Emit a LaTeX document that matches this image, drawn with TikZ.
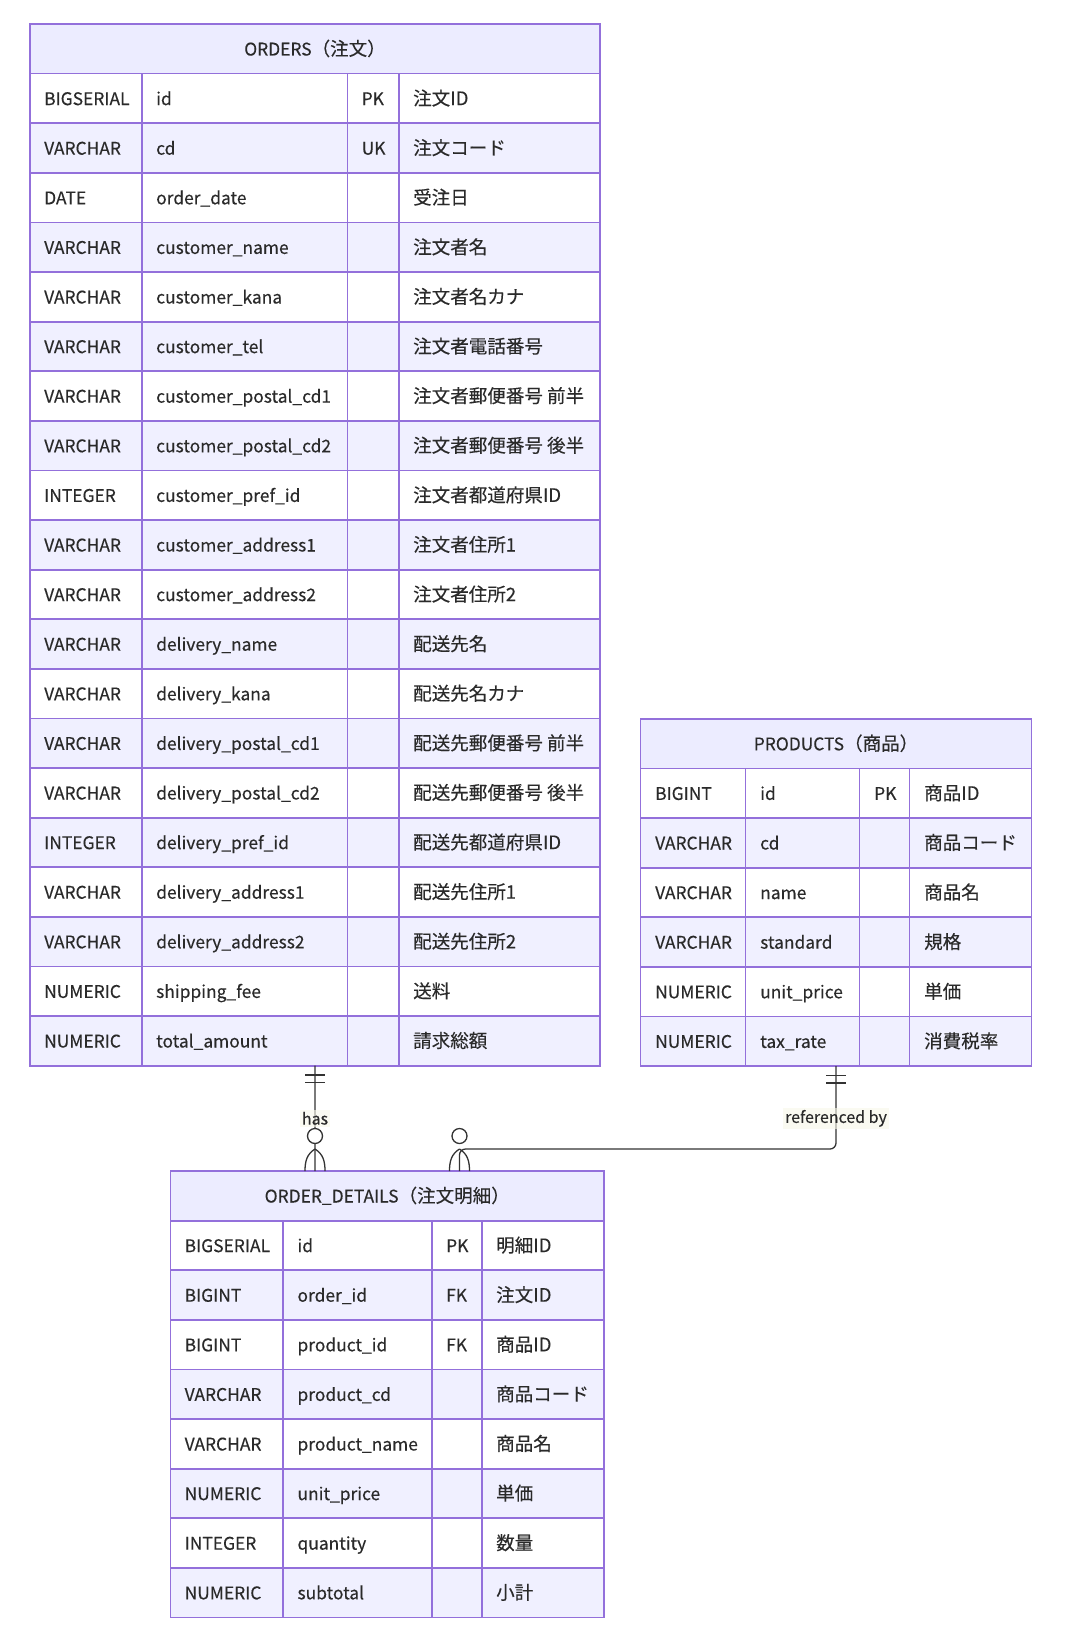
\documentclass[tikz,border=0pt]{standalone}
\usepackage{fontspec}
\setmainfont{Noto Sans CJK JP}[FakeBold=0.3]
\newfontfamily\jp{Noto Sans CJK JP}[Scale=1.065, FakeBold=0.3]
\usepackage{tikz}
\usetikzlibrary{calc}
\definecolor{erLine}{HTML}{9370DB}
\definecolor{erHead}{HTML}{ECECFF}
\definecolor{erRow}{HTML}{F0F0FF}
\definecolor{relLine}{HTML}{333333}
\definecolor{txt}{HTML}{2A2A2A}
\definecolor{labelbg}{HTML}{F6F6E8}

\begin{document}
\begin{tikzpicture}[x=1pt, y=-1pt,
    grid/.style={draw=erLine, line width=1.8pt},
    frame/.style={grid, anchor=north west, inner sep=0pt, outer sep=0pt},
    celltext/.style={anchor=base west, inner sep=0pt, text=txt, font=\fontsize{17.4}{17.4}\selectfont},
    titletext/.style={anchor=base, inner sep=0pt, text=txt, font=\fontsize{17.4}{17.4}\selectfont},
    rel/.style={draw=relLine, line width=1.3pt},
    rellabel/.style={fill=labelbg, fill opacity=0.6, text opacity=1, inner sep=2pt, text=txt, font=\fontsize{16}{16}\selectfont}]
    \useasboundingbox (0,0) rectangle (1071,1651);

    % ORDERS
    \draw[grid, fill=erHead] (30,24) rectangle (600,73.6);
    \node[titletext] (orders-title) at (315,55.5) {ORDERS{\jp（注文）}};
    \foreach \ty/\nm/\ky/\cm [count=\i] in {BIGSERIAL/id/PK/注文ID, VARCHAR/cd/UK/注文コード, DATE/order\_date//受注日,
        VARCHAR/customer\_name//注文者名, VARCHAR/customer\_kana//注文者名カナ, VARCHAR/customer\_tel//注文者電話番号,
        VARCHAR/customer\_postal\_cd1//注文者郵便番号 前半, VARCHAR/customer\_postal\_cd2//注文者郵便番号 後半,
        INTEGER/customer\_pref\_id//注文者都道府県ID, VARCHAR/customer\_address1//注文者住所1,
        VARCHAR/customer\_address2//注文者住所2, VARCHAR/delivery\_name//配送先名, VARCHAR/delivery\_kana//配送先名カナ,
        VARCHAR/delivery\_postal\_cd1//配送先郵便番号 前半, VARCHAR/delivery\_postal\_cd2//配送先郵便番号 後半,
        INTEGER/delivery\_pref\_id//配送先都道府県ID, VARCHAR/delivery\_address1//配送先住所1,
        VARCHAR/delivery\_address2//配送先住所2, NUMERIC/shipping\_fee//送料, NUMERIC/total\_amount//請求総額} {
      \pgfmathsetmacro\yt{24+\i*49.6}
      \ifodd\i\relax\def\rowfill{white}\else\def\rowfill{erRow}\fi
      \draw[grid, fill=\rowfill] (30,\yt) rectangle (600,\yt+49.6);
      \draw[grid] (142,\yt) -- (142,\yt+49.6) (347.5,\yt) -- (347.5,\yt+49.6) (399,\yt) -- (399,\yt+49.6);
      \node[celltext] (ord-ty-\i) at (44,\yt+31.5) {\ty};
      \node[celltext] (ord-nm-\i) at (156,\yt+31.5) {\nm};
      \node[celltext] (ord-ky-\i) at (361.5,\yt+31.5) {\ky};
      \node[celltext] (ord-cm-\i) at (413,\yt+31.5) {\jp\cm};
    }
    \node[frame, minimum width=570pt, minimum height=1041.6pt] (orders) at (30,24) {};

    % PRODUCTS
    \draw[grid, fill=erHead] (640.5,718.8) rectangle (1031.5,768.4);
    \node[titletext] (products-title) at (836,750.3) {PRODUCTS{\jp（商品）}};
    \foreach \ty/\nm/\ky/\cm [count=\i] in {BIGINT/id/PK/商品ID, VARCHAR/cd//商品コード, VARCHAR/name//商品名,
        VARCHAR/standard//規格, NUMERIC/unit\_price//単価, NUMERIC/tax\_rate//消費税率} {
      \pgfmathsetmacro\yt{718.8+\i*49.6}
      \ifodd\i\relax\def\rowfill{white}\else\def\rowfill{erRow}\fi
      \draw[grid, fill=\rowfill] (640.5,\yt) rectangle (1031.5,\yt+49.6);
      \draw[grid] (745.5,\yt) -- (745.5,\yt+49.6) (859.5,\yt) -- (859.5,\yt+49.6) (909.5,\yt) -- (909.5,\yt+49.6);
      \node[celltext] (prd-ty-\i) at (655,\yt+31.5) {\ty};
      \node[celltext] (prd-nm-\i) at (760,\yt+31.5) {\nm};
      \node[celltext] (prd-ky-\i) at (874,\yt+31.5) {\ky};
      \node[celltext] (prd-cm-\i) at (924,\yt+31.5) {\jp\cm};
    }
    \node[frame, minimum width=391pt, minimum height=347.2pt] (products) at (640.5,718.8) {};

    % ORDER_DETAILS
    \draw[grid, fill=erHead] (170.5,1171) rectangle (604,1220.6);
    \node[titletext] (details-title) at (387.25,1202.5) {ORDER\_DETAILS{\jp（注文明細）}};
    \foreach \ty/\nm/\ky/\cm [count=\i] in {BIGSERIAL/id/PK/明細ID, BIGINT/order\_id/FK/注文ID, BIGINT/product\_id/FK/商品ID,
        VARCHAR/product\_cd//商品コード, VARCHAR/product\_name//商品名, NUMERIC/unit\_price//単価,
        INTEGER/quantity//数量, NUMERIC/subtotal//小計} {
      \pgfmathsetmacro\yt{1171+\i*49.6}
      \ifodd\i\relax\def\rowfill{white}\else\def\rowfill{erRow}\fi
      \draw[grid, fill=\rowfill] (170.5,\yt) rectangle (604,\yt+49.6);
      \draw[grid] (283.3,\yt) -- (283.3,\yt+49.6) (432,\yt) -- (432,\yt+49.6) (482,\yt) -- (482,\yt+49.6);
      \node[celltext] (det-ty-\i) at (184.5,\yt+31.5) {\ty};
      \node[celltext] (det-nm-\i) at (297.3,\yt+31.5) {\nm};
      \node[celltext] (det-ky-\i) at (446,\yt+31.5) {\ky};
      \node[celltext] (det-cm-\i) at (496,\yt+31.5) {\jp\cm};
    }
    \node[frame, minimum width=433.5pt, minimum height=446.4pt] (details) at (170.5,1171) {};

    % relations
    \coordinate (hasEnd) at ($(details.north west)!1/3!(details.north east)$);
    \coordinate (refEnd) at ($(details.north west)!2/3!(details.north east)$);
    \coordinate (refApex) at ($(refEnd)+(0,-22)$);
    \draw[rel] (orders.south) -- node[rellabel] (hasLabel) {has} (hasEnd);
    \draw[rel, rounded corners=6pt] (products.south) -- (products.south |- refApex) -- (refApex) -- (refEnd);
    \node[rellabel] (refLabel) at (products.south |- hasLabel) {referenced by};

    % one only
    \draw[rel] ($(orders.south)+(-10,9.5)$) -- +(20,0) ($(orders.south)+(-10,17)$) -- +(20,0);
    \draw[rel] ($(products.south)+(-10,9.5)$) -- +(20,0) ($(products.south)+(-10,17)$) -- +(20,0);

    % zero or more
    \draw[rel, fill=white] ($(hasEnd)+(0,-35)$) circle[radius=7.5pt];
    \draw[rel] ($(hasEnd)+(0,-22)$) .. controls +(-8,5) and +(0,-10) .. ($(hasEnd)+(-10,0)$);
    \draw[rel] ($(hasEnd)+(0,-22)$) .. controls +(8,5) and +(0,-10) .. ($(hasEnd)+(10,0)$);
    \draw[rel, fill=white] ($(refEnd)+(0,-35)$) circle[radius=7.5pt];
    \draw[rel] (refApex) .. controls +(-8,5) and +(0,-10) .. ($(refEnd)+(-10,0)$);
    \draw[rel] (refApex) .. controls +(8,5) and +(0,-10) .. ($(refEnd)+(10,0)$);
\end{tikzpicture}
\end{document}
